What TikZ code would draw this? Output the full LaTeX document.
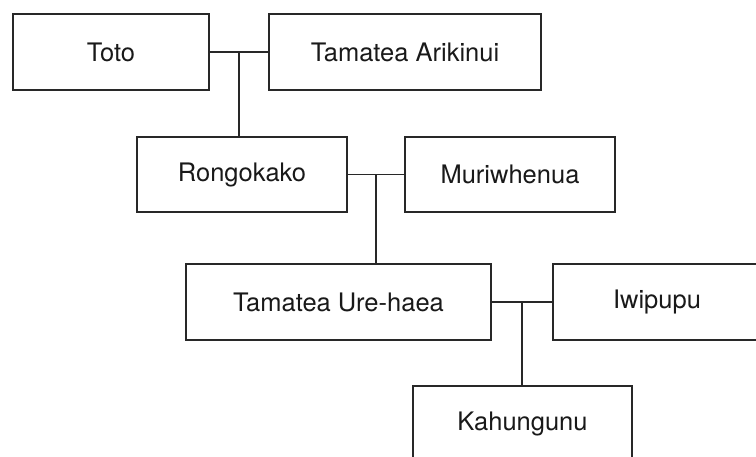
\documentclass[tikz,border=0pt]{standalone}
\usepackage{fontspec}
\setmainfont{TeX Gyre Heros}
\usetikzlibrary{calc}
\definecolor{linec}{RGB}{40,40,40}
\definecolor{textc}{RGB}{25,25,25}
\begin{document}
\begin{tikzpicture}[x=1pt,y=-1pt,
  person/.style={draw=linec,line width=1.4pt,rectangle,inner sep=0pt,
    minimum height=76pt,text=textc,font=\fontsize{25.5}{29}\selectfont},
  link/.style={draw=linec,line width=1.4pt}]
\useasboundingbox (0,0) rectangle (756,457);
\clip (0,0) rectangle (756,457);
\node[person,minimum width=196pt] (toto) at (111,52) {Toto};
\node[person,minimum width=272pt] (ari) at (405,52) {Tamatea Arikinui};
\node[person,minimum width=210pt,minimum height=75pt] (rong) at (242,174.5) {Rongokako};
\node[person,minimum width=210pt,minimum height=75pt] (muri) at (510,174.5) {Muriwhenua};
\node[person,minimum width=305pt] (ure) at (338.5,302) {Tamatea Ure-haea};
\node[person,minimum width=208pt] (iwi) at (657,302) {Iwipupu};
\node[person,minimum width=219pt] (kahu) at (522.5,424) {Kahungunu};
\draw[link] (toto.east) -- (ari.west);
\coordinate (m1) at ($(toto.east)!0.5!(ari.west)$);
\draw[link] (m1) -- (m1 |- rong.north);
\draw[link] (rong.east) -- (muri.west);
\coordinate (m2) at ($(rong.east)!0.5!(muri.west)$);
\draw[link] (m2) -- (m2 |- ure.north);
\draw[link] (ure.east) -- (iwi.west);
\coordinate (m3) at ($(ure.east)!0.5!(iwi.west)$);
\draw[link] (m3) -- (m3 |- kahu.north);
\end{tikzpicture}
\end{document}
